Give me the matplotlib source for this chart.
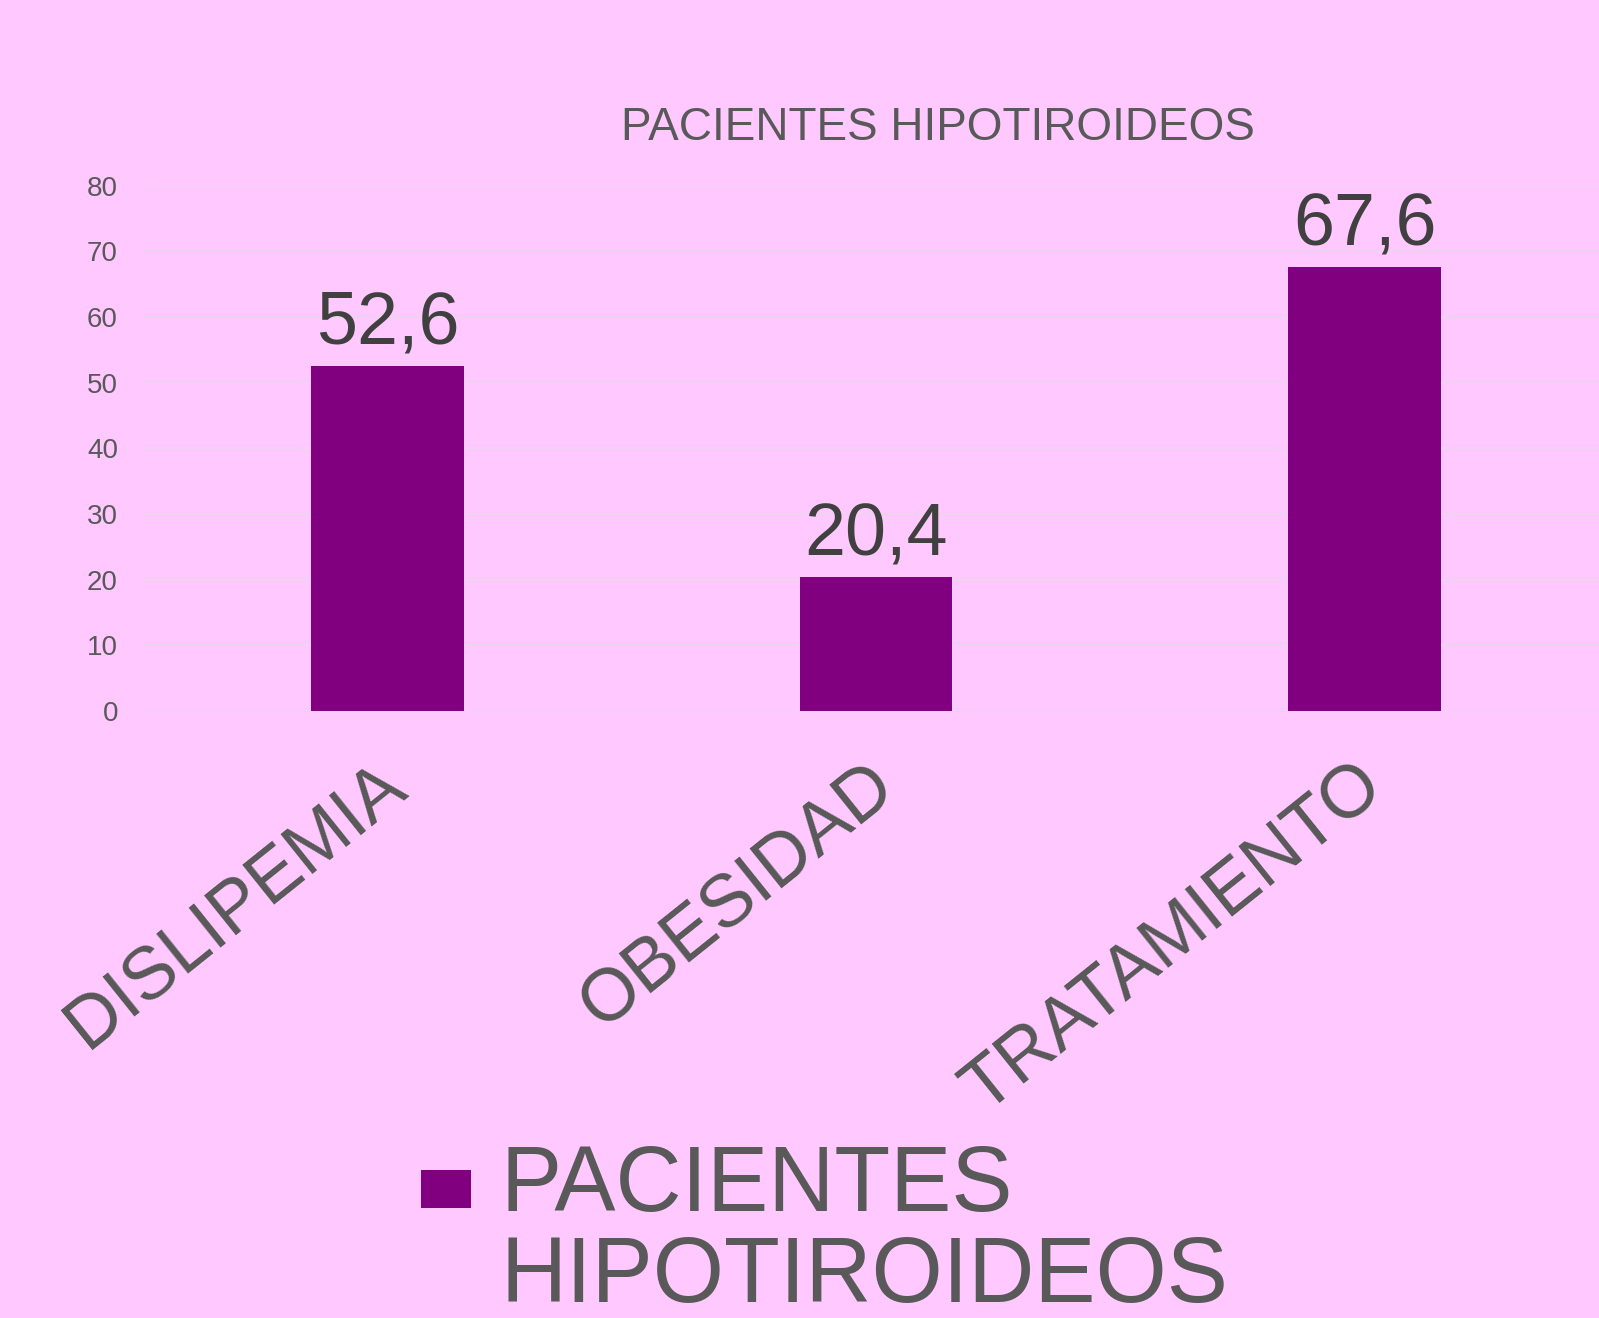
import matplotlib
matplotlib.use("Agg")
import matplotlib.pyplot as plt
from matplotlib.patches import Rectangle
import matplotlib.transforms as mtransforms

categories = ["DISLIPEMIA", "OBESIDAD", "TRATAMIENTO"]
values = [52.6, 20.4, 67.6]
yticks = [0, 10, 20, 30, 40, 50, 60, 70, 80]
series_name = ["PACIENTES", "HIPOTIROIDEOS"]
title = "PACIENTES HIPOTIROIDEOS"

BG = "#FFC8FF"
BAR = "#800080"
GRID = "#EDD3ED"
TXT = "#595959"
VAL = "#404040"

plt.rcParams["font.family"] = ["Liberation Sans", "DejaVu Sans"]

W, H = 1599, 1318
fig = plt.figure(figsize=(W / 100, H / 100), dpi=100, facecolor=BG)
ax = fig.add_axes([143 / W, 1 - 711 / H, (1609 - 143) / W, (711 - 185.6) / H])
ax.set_facecolor(BG)

x = list(range(len(categories)))
bars = ax.bar(x, values, width=0.313, color=BAR, zorder=3)
ax.set_xlim(-0.5, len(categories) - 0.5)
ax.set_ylim(0, 80)
ax.set_yticks(yticks)
ax.set_yticklabels([str(t) for t in yticks])
ax.grid(axis="y", color=GRID, linewidth=1.5, zorder=0)
ax.grid(axis="x", visible=False)
for s in ax.spines.values():
    s.set_visible(False)

ax.tick_params(axis="y", length=0, pad=18, labelsize=20, labelcolor=TXT)
ax.set_xticks(x)
ax.set_xticklabels(categories)
ax.tick_params(axis="x", length=0, pad=28, labelsize=53, labelcolor=TXT)
offset = mtransforms.ScaledTranslation(-12 / 100, 0, fig.dpi_scale_trans)
for lab in ax.get_xticklabels():
    lab.set_rotation(38.7)
    lab.set_ha("right")
    lab.set_va("top")
    lab.set_rotation_mode("anchor")
    lab.set_transform(lab.get_transform() + offset)

ax.bar_label(bars, labels=[f"{v:.1f}".replace(".", ",") for v in values],
             padding=5, fontsize=53, color=VAL)

fig.text(938 / W, 1 - 140 / H, title, ha="center", va="baseline",
         fontsize=33, color=TXT)

# legend
fig.patches.append(Rectangle((421 / W, 1 - 1208 / H), 50 / W, 38 / H,
                             transform=fig.transFigure, facecolor=BAR,
                             edgecolor="none"))
fig.text(500 / W, 1 - 1211 / H, series_name[0], ha="left", va="baseline",
         fontsize=66, color=TXT)
fig.text(500 / W, 1 - 1302 / H, series_name[1], ha="left", va="baseline",
         fontsize=66, color=TXT)

fig.savefig("out.png", dpi=100, facecolor=BG)
